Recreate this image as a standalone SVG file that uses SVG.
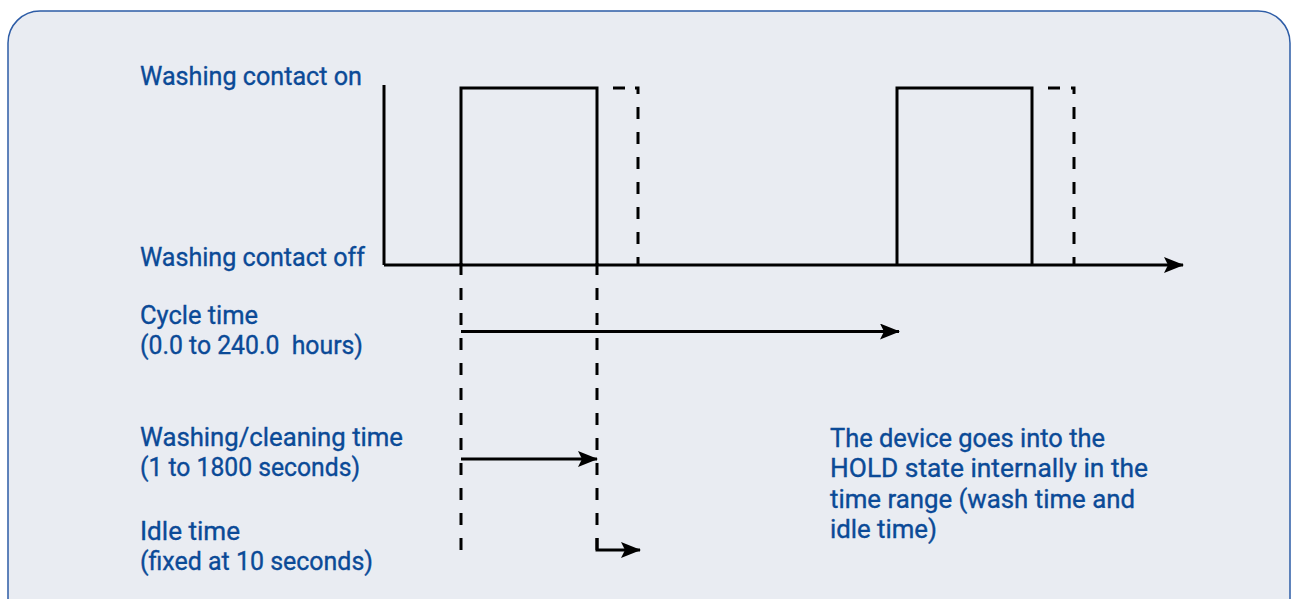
<svg xmlns="http://www.w3.org/2000/svg" width="1295" height="599" viewBox="0 0 1295 599">
<style>
.lbl{font-family:Roboto,"Liberation Sans",sans-serif;font-size:25px;font-weight:400;fill:#0b4a97;stroke:#0b4a97;stroke-width:0.35;white-space:pre}
.ln{stroke:#000;stroke-width:3;fill:none}
.dash{stroke:#000;stroke-width:3;fill:none;stroke-dasharray:12 13}
</style>
<defs>
<marker id="ah" markerWidth="20" markerHeight="16" refX="19" refY="8" orient="auto" markerUnits="userSpaceOnUse">
<path d="M0,0 L20,8 L0,16 L4,8 Z" fill="#000"/>
</marker>
</defs>
<rect x="8" y="11" width="1282" height="640" rx="32" ry="32" fill="#e9ecf2" stroke="#2d5ca6" stroke-width="1.5"/>
<g id="labels">
<text class="lbl" x="140" y="85" textLength="222" lengthAdjust="spacingAndGlyphs">Washing contact on</text>
<text class="lbl" x="140" y="266" textLength="225" lengthAdjust="spacingAndGlyphs">Washing contact off</text>
<text class="lbl" x="140" y="324" textLength="118" lengthAdjust="spacingAndGlyphs">Cycle time</text>
<text class="lbl" x="140" y="354" textLength="223" lengthAdjust="spacingAndGlyphs">(0.0 to 240.0  hours)</text>
<text class="lbl" x="140" y="446" textLength="263" lengthAdjust="spacingAndGlyphs">Washing/cleaning time</text>
<text class="lbl" x="140" y="476" textLength="220" lengthAdjust="spacingAndGlyphs">(1 to 1800 seconds)</text>
<text class="lbl" x="140" y="540" textLength="100" lengthAdjust="spacingAndGlyphs">Idle time</text>
<text class="lbl" x="140" y="570" textLength="233" lengthAdjust="spacingAndGlyphs">(fixed at 10 seconds)</text>
<text class="lbl" x="830" y="447" textLength="275" lengthAdjust="spacingAndGlyphs">The device goes into the</text>
<text class="lbl" x="830" y="477" textLength="318" lengthAdjust="spacingAndGlyphs">HOLD state internally in the</text>
<text class="lbl" x="830" y="508" textLength="305" lengthAdjust="spacingAndGlyphs">time range (wash time and</text>
<text class="lbl" x="830" y="538" textLength="107" lengthAdjust="spacingAndGlyphs">idle time)</text>
</g>
<g id="connectors">
<line class="ln" x1="384" y1="85" x2="384" y2="265"/>
<line class="ln" x1="384" y1="265" x2="1183" y2="265" marker-end="url(#ah)"/>
<polyline class="ln" points="461,265 461,88 597,88 597,265"/>
<polyline class="ln" points="897,265 897,88 1032,88 1032,265"/>
<line class="ln" x1="613" y1="88" x2="625" y2="88"/>
<polyline class="ln" points="635,88 638,88 638,94"/>
<line class="dash" x1="638" y1="107" x2="638" y2="266"/>
<line class="ln" x1="1048" y1="88" x2="1060" y2="88"/>
<polyline class="ln" points="1071,88 1074,88 1074,94"/>
<line class="dash" x1="1074" y1="107" x2="1074" y2="266"/>
<line class="dash" x1="461" y1="263" x2="461" y2="551"/>
<line class="dash" x1="597" y1="263" x2="597" y2="550"/>
<polyline class="ln" points="597,538 597,550 640,550" marker-end="url(#ah)"/>
<line class="ln" x1="461" y1="331.5" x2="899" y2="331.5" marker-end="url(#ah)"/>
<line class="ln" x1="461" y1="459" x2="597" y2="459" marker-end="url(#ah)"/>
</g>
</svg>
